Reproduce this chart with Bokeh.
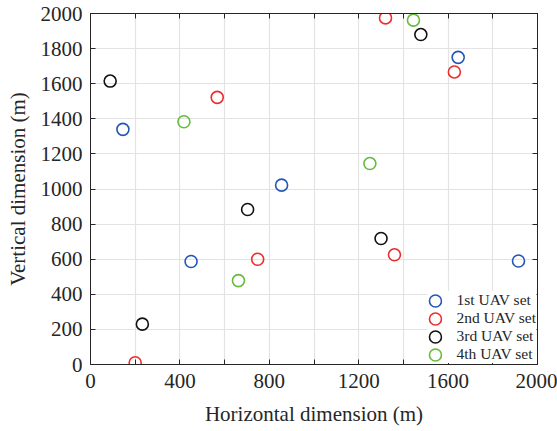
from bokeh.plotting import figure
from bokeh.models import FixedTicker, LinearAxis, Range1d, Legend, LegendItem
from bokeh.embed import file_html
from bokeh.resources import INLINE

# Data (m)
set1_x = [145, 450, 855, 1645, 1915]
set1_y = [1340, 587, 1022, 1750, 590]
set2_x = [567, 200, 748, 1320, 1628, 1360]
set2_y = [1522, 10, 600, 1975, 1667, 625]
set3_x = [88, 232, 703, 1478, 1300]
set3_y = [1615, 230, 883, 1880, 718]
set4_x = [418, 662, 1250, 1445]
set4_y = [1383, 478, 1145, 1962]
labels = ["1st UAV set", "2nd UAV set", "3rd UAV set", "4th UAV set"]
colors = ["#2456b8", "#ee2c2c", "#111111", "#66bb3c"]

x_ticks = list(range(0, 2001, 200))
y_ticks = list(range(0, 2001, 200))

FONT = "Liberation Serif"
AX = "#262626"

p = figure(width=557, height=431, output_backend="svg", toolbar_location=None,
           x_range=Range1d(0, 2000), y_range=Range1d(0, 2000),
           min_border_left=90, min_border_right=20, min_border_top=13, min_border_bottom=67)
p.outline_line_color = AX
p.outline_line_width = 1
p.background_fill_color = "white"
p.border_fill_color = "white"

x_over = {t: ("" if t % 400 else str(t)) for t in x_ticks}

for ax in [p.xaxis[0], p.yaxis[0]]:
    ax.major_tick_in = 5
    ax.major_tick_out = 0
    ax.minor_tick_line_color = None
    ax.axis_line_color = AX
    ax.major_tick_line_color = AX
    ax.major_label_text_font = FONT
    ax.major_label_text_font_size = "21px"
    ax.major_label_text_color = "#262626"
    ax.axis_label_text_font = FONT
    ax.axis_label_text_font_size = "21px"
    ax.axis_label_text_font_style = "normal"
    ax.axis_label_text_color = "#262626"

p.xaxis[0].ticker = FixedTicker(ticks=x_ticks)
p.xaxis[0].major_label_overrides = x_over
p.xaxis[0].axis_label = "Horizontal dimension (m)"
p.xaxis[0].major_label_standoff = 9
p.xaxis[0].axis_label_standoff = 11
p.yaxis[0].ticker = FixedTicker(ticks=y_ticks)
p.yaxis[0].axis_label = "Vertical dimension (m)"
p.yaxis[0].major_label_standoff = 8
p.yaxis[0].axis_label_standoff = 8

for side in ["above", "right"]:
    tk = x_ticks if side == "above" else y_ticks
    a = LinearAxis(ticker=FixedTicker(ticks=tk))
    a.major_label_overrides = {t: "" for t in tk}
    a.major_tick_in = 5
    a.major_tick_out = 0
    a.minor_tick_line_color = None
    a.axis_line_color = AX
    a.major_tick_line_color = AX
    a.major_label_standoff = 0
    p.add_layout(a, side)

p.xgrid.ticker = FixedTicker(ticks=x_ticks)
p.ygrid.ticker = FixedTicker(ticks=y_ticks)
p.xgrid.grid_line_color = "#e3e3e3"
p.ygrid.grid_line_color = "#e3e3e3"
p.xgrid.grid_line_width = 1.2
p.ygrid.grid_line_width = 1.2

items = []
for xs, ys, c, lab in zip([set1_x, set2_x, set3_x, set4_x], [set1_y, set2_y, set3_y, set4_y], colors, labels):
    r = p.ellipse(x=xs, y=ys, width=12, height=12, width_units="screen", height_units="screen",
                  fill_color=None, line_color=c, line_width=1.6)
    items.append(LegendItem(label=lab, renderers=[r]))

leg = Legend(items=items, location="bottom_right")
leg.label_text_font = FONT
leg.label_text_font_size = "15.5px"
leg.label_text_color = "#262626"
leg.border_line_color = None
leg.background_fill_color = "white"
leg.background_fill_alpha = 1
leg.margin = 1
leg.spacing = 0
leg.label_height = 17
leg.glyph_height = 17
leg.glyph_width = 15
leg.label_standoff = 14
leg.padding = 6
p.add_layout(leg, "center")

open("out.html", "w").write(file_html(p, INLINE))
